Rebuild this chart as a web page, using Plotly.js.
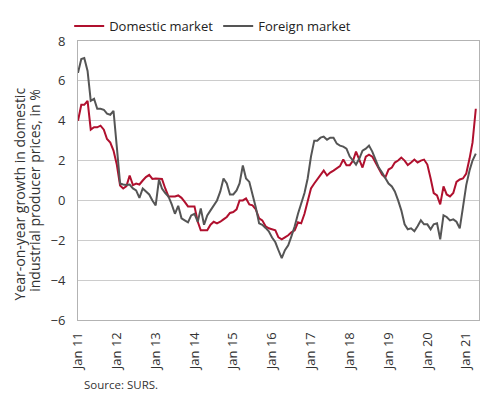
<!DOCTYPE html>
<html>
<head>
<meta charset="utf-8">
<script src="https://cdn.plot.ly/plotly-3.0.1.min.js"></script>
<style>html,body{margin:0;padding:0;background:#fff;}#chart{width:490px;height:398px;}</style>
</head>
<body>
<div id="chart"></div>
<script>
// Monthly series, Jan 2011 - Apr 2021 (year-on-year growth, %)
var startYear = 2011, startMonth = 1;
var domestic = [
 4.0, 4.8, 4.8, 5.0, 3.55, 3.67, 3.67, 3.75, 3.55, 3.08, 2.9, 2.5,
 1.8, 0.75, 0.6, 0.72, 1.25, 0.77, 0.85, 0.8, 1.0, 1.17, 1.28, 1.08,
 1.1, 1.1, 1.08, 0.6, 0.2, 0.2, 0.2, 0.25, 0.13, -0.07, -0.3, -0.3,
 -0.3, -1.07, -1.5, -1.5, -1.5, -1.22, -1.07, -1.15, -1.07, -0.95, -0.83, -0.63,
 -0.58, -0.45, 0.0, 0.0, 0.1, -0.2, -0.25, -0.45, -0.9, -1.0, -1.3, -1.4,
 -1.45, -1.5, -1.85, -1.95, -1.85, -1.75, -1.6, -1.5, -1.1, -1.15, -0.67, 0.0,
 0.6, 0.85, 1.05, 1.25, 1.5, 1.25, 1.4, 1.5, 1.6, 1.72, 2.05, 1.77,
 1.77, 2.0, 2.45, 2.05, 1.65, 2.2, 2.3, 2.2, 1.9, 1.55, 1.3, 1.15,
 1.55, 1.65, 1.9, 2.0, 2.15, 2.0, 1.77, 1.9, 2.05, 1.9, 2.0, 2.05,
 1.8, 1.1, 0.37, 0.25, -0.2, 0.7, 0.3, 0.2, 0.37, 0.93, 1.05, 1.1,
 1.35, 2.1, 2.9, 4.6
];
var foreign = [
 6.4, 7.1, 7.15, 6.5, 5.0, 5.1, 4.6, 4.6, 4.55, 4.35, 4.3, 4.5,
 2.7, 0.85, 0.8, 0.77, 0.8, 0.6, 0.5, 0.13, 0.6, 0.45, 0.3, 0.0,
 -0.25, 1.05, 0.6, 0.37, 0.2, -0.2, -0.67, -0.27, -0.9, -1.0, -1.1, -0.75,
 -0.67, -1.07, -0.4, -1.22, -0.75, -0.5, -0.27, 0.0, 0.45, 1.1, 0.85, 0.3,
 0.3, 0.5, 0.85, 1.75, 1.1, 0.93, 0.3, -0.35, -1.15, -1.22, -1.38, -1.55,
 -1.86, -2.1, -2.5, -2.9, -2.5, -2.25, -1.8, -1.3, -0.67, -0.2, 0.37, 1.1,
 2.2, 3.0, 3.0, 3.15, 3.2, 3.05, 3.15, 3.15, 2.85, 2.75, 2.7, 2.6,
 2.2, 2.0, 1.8, 2.1, 2.5, 2.6, 2.75, 2.45, 2.0, 1.65, 1.4, 1.15,
 0.85, 0.7, 0.45, 0.0, -0.5, -1.2, -1.45, -1.4, -1.55, -1.3, -1.0, -1.2,
 -1.2, -1.45, -1.2, -1.15, -1.95, -0.75, -0.83, -1.0, -0.95, -1.07, -1.4, -0.35,
 0.77, 1.5, 2.0, 2.35
];
var tickVals = ['2011-01-01','2012-01-01','2013-01-01','2014-01-01','2015-01-01','2016-01-01','2017-01-01','2018-01-01','2019-01-01','2020-01-01','2021-01-01'];
var tickText = ['Jan 11','Jan 12','Jan 13','Jan 14','Jan 15','Jan 16','Jan 17','Jan 18','Jan 19','Jan 20','Jan 21'];
var yTitleLines = ['Year-on-year growth in domestic', 'industrial producer prices, in %'];
var sourceText = 'Source: SURS.';

function monthDates(n) {
  var out = [];
  for (var i = 0; i < n; i++) {
    var y = startYear + Math.floor((startMonth - 1 + i) / 12);
    var m = ((startMonth - 1 + i) % 12) + 1;
    out.push(y + '-' + (m < 10 ? '0' + m : m) + '-01');
  }
  return out;
}
var dates = monthDates(domestic.length);

var font = "'Open Sans', 'DejaVu Sans', sans-serif";
var traces = [
  {x: dates, y: domestic, type: 'scatter', mode: 'lines', name: 'Domestic market',
   line: {color: '#b0102e', width: 2}},
  {x: dates, y: foreign, type: 'scatter', mode: 'lines', name: 'Foreign market',
   line: {color: '#555555', width: 2}}
];
var layout = {
  width: 490, height: 398,
  margin: {l: 78, r: 11, t: 27, b: 78},
  paper_bgcolor: '#fff', plot_bgcolor: '#fff',
  font: {family: font, size: 13, color: '#333'},
  showlegend: true,
  legend: {orientation: 'h', x: -0.022, xanchor: 'left', y: 1.0, yanchor: 'bottom',
           font: {family: font, size: 13, color: '#222'}, itemwidth: 30,
           tracegroupgap: 0, bgcolor: 'rgba(0,0,0,0)'},
  xaxis: {type: 'date', range: ['2011-01-01', '2021-05-01'],
          tickmode: 'array', tickvals: tickVals, ticktext: tickText, tickangle: -90,
          showgrid: false, zeroline: false, showline: true, mirror: true,
          linecolor: '#b3b3b3', linewidth: 1, ticks: '', ticklabelstandoff: 6,
          tickfont: {family: font, size: 13, color: '#333'}},
  yaxis: {range: [-6, 8], dtick: 2, tick0: 0, showgrid: true, gridcolor: '#cccccc',
          gridwidth: 1, zeroline: false, showline: true, mirror: true,
          linecolor: '#b3b3b3', linewidth: 1, ticks: '', ticklabelstandoff: 9,
          tickfont: {family: font, size: 13, color: '#333'}},
  annotations: [
    {text: yTitleLines[0], xref: 'paper', yref: 'paper', x: -0.1459, y: 0.452,
     xanchor: 'center', yanchor: 'middle', textangle: -90, showarrow: false,
     font: {family: font, size: 14, color: '#333'}},
    {text: yTitleLines[1], xref: 'paper', yref: 'paper', x: -0.1085, y: 0.465,
     xanchor: 'center', yanchor: 'middle', textangle: -90, showarrow: false,
     font: {family: font, size: 14, color: '#333'}},
    {text: sourceText, xref: 'paper', yref: 'paper', x: 0.01, y: -0.232,
     xanchor: 'left', yanchor: 'middle', showarrow: false,
     font: {family: font, size: 11.5, color: '#333'}}
  ]
};
Plotly.newPlot('chart', traces, layout, {displayModeBar: false, staticPlot: true});
</script>
</body>
</html>
